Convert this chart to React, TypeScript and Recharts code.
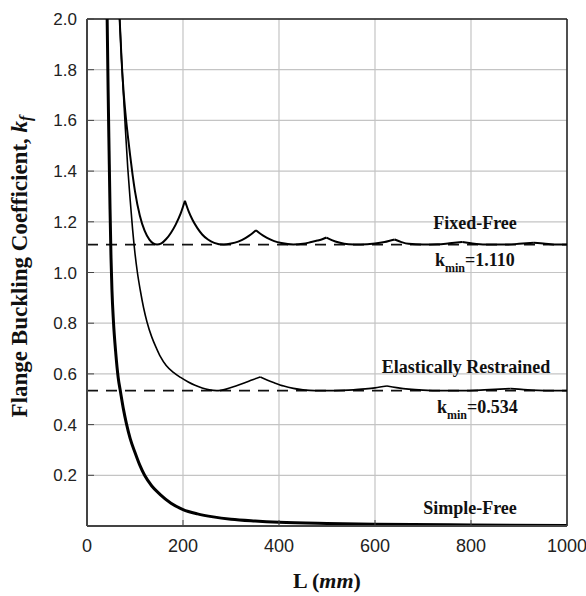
import { LineChart, Line, XAxis, YAxis, CartesianGrid, ReferenceLine, Label } from 'recharts';

// Fixed-Free edge
const ffL = [68, 72, 76, 80, 85, 90, 95, 100, 110, 120, 130, 138, 146, 155, 165, 175, 185, 195, 204,
    212, 220, 230, 240, 252, 265, 285, 300, 315, 330, 342, 352,
    362, 375, 390, 405, 430, 450, 465, 480, 490, 499,
    510, 525, 545, 570, 600, 620, 641,
    655, 670, 700, 730, 755, 782,
    800, 830, 870, 900, 931,
    955, 980, 1000];
const ffK = [2.0, 1.84, 1.72, 1.63, 1.54, 1.46, 1.385, 1.32, 1.225, 1.165, 1.13, 1.115, 1.11, 1.115, 1.132, 1.157, 1.19, 1.232, 1.283,
    1.24, 1.207, 1.175, 1.15, 1.13, 1.117, 1.11, 1.114, 1.122, 1.136, 1.151, 1.167,
    1.152, 1.137, 1.124, 1.116, 1.11, 1.113, 1.119, 1.126, 1.131, 1.138,
    1.128, 1.118, 1.111, 1.11, 1.114, 1.12, 1.13,
    1.12, 1.113, 1.11, 1.111, 1.115, 1.12,
    1.115, 1.11, 1.11, 1.113, 1.117,
    1.113, 1.11, 1.11];
const ffCusps = [204, 352, 499, 641, 782, 931];

// Elastically restrained edge
const erL = [68, 72, 76, 80, 85, 90, 95, 100, 105, 111, 118, 125, 135, 145, 153, 165, 180, 195, 210, 225, 240, 255, 270, 290, 310, 330, 345, 361,
    375, 390, 410, 430, 450, 475, 500, 530, 555, 580, 600, 625,
    645, 670, 700, 740, 780, 820, 850, 882,
    910, 940, 970, 1000];
const erK = [2.0, 1.84, 1.7, 1.565, 1.41, 1.285, 1.17, 1.075, 1.0, 0.93, 0.86, 0.805, 0.745, 0.7, 0.668, 0.633, 0.606, 0.586, 0.569, 0.555, 0.544, 0.537, 0.534, 0.54, 0.552, 0.566, 0.577, 0.588,
    0.576, 0.565, 0.552, 0.543, 0.537, 0.534, 0.534, 0.535, 0.537, 0.541, 0.545, 0.552,
    0.546, 0.54, 0.536, 0.534, 0.534, 0.536, 0.539, 0.542,
    0.538, 0.535, 0.534, 0.534];
const erCusps = [361, 625, 882];

// Simple-Free edge
const sfL = [42, 44, 46, 48, 50, 52, 55, 60, 65, 70, 76, 82, 90, 100, 110, 120, 135, 152, 175, 200, 230, 263, 300, 350, 400, 500, 600, 800, 1000];
const sfK = [2.0, 1.72, 1.48, 1.25, 1.06, 0.93, 0.81, 0.68, 0.585, 0.527, 0.46, 0.405, 0.345, 0.29, 0.24, 0.2, 0.158, 0.125, 0.09, 0.065, 0.048, 0.036, 0.027, 0.02, 0.015, 0.01, 0.007, 0.004, 0.002];

const xTicks = [0, 200, 400, 600, 800, 1000];
const yTicks = [0.2, 0.4, 0.6, 0.8, 1.0, 1.2, 1.4, 1.6, 1.8, 2.0];
const kminFixed = 1.11;
const kminElastic = 0.534;

type Pt = { L: number; k: number };

// break a curve at its cusps so each smooth piece can be drawn on its own
const pieces = (Ls: number[], ks: number[], cusps: number[]) => {
    const out: Pt[][] = [[]];
    Ls.forEach((L, i) => {
        out[out.length - 1].push({ L, k: ks[i] });
        if (cusps.includes(L)) out.push([{ L, k: ks[i] }]);
    });
    return out.filter((p) => p.length > 1);
};

const fixedFree = pieces(ffL, ffK, ffCusps);
const elastic = pieces(erL, erK, erCusps);
const simpleFree = sfL.map((L, i) => ({ L, k: sfK[i] }));

const serif = '"Liberation Serif", "Times New Roman", serif';
const sans = '"Liberation Sans", Arial, sans-serif';

const annot = (title: string, titleDx: number, titleDy: number, kmin?: string, kDx?: number, kDy?: number) =>
    (props: any) => {
        const vb = props.viewBox;
        const right = vb.x + vb.width;
        return (
            <g fontFamily={serif} fontWeight="bold" fill="#111">
                <text x={right - titleDx} y={vb.y - titleDy} textAnchor="middle" fontSize={18}>{title}</text>
                {kmin && (
                    <text x={right - (kDx || 0)} y={vb.y + (kDy || 0)} fontSize={18}>
                        <tspan>k</tspan>
                        <tspan dy={6} fontSize={12}>min</tspan>
                        <tspan dy={-6}>={kmin}</tspan>
                    </text>
                )}
            </g>
        );
    };

const YTitle = (props: any) => {
    const vb = props.viewBox;
    const cx = vb.x + 27;
    const cy = vb.y + vb.height / 2 - 6;
    return (
        <text x={cx} y={cy} transform={`rotate(-90, ${cx}, ${cy})`} textAnchor="middle"
            fontFamily={serif} fontWeight="bold" fontSize={23} fill="#111">
            Flange Buckling Coefficient, <tspan fontStyle="italic">k</tspan>
            <tspan fontStyle="italic" fontSize={16} dy={4}>f</tspan>
        </text>
    );
};

const XTitle = (props: any) => {
    const vb = props.viewBox;
    return (
        <text x={vb.x + vb.width / 2} y={588} textAnchor="middle"
            fontFamily={serif} fontWeight="bold" fontSize={22} fill="#111">
            L (<tspan fontStyle="italic">mm</tspan>)
        </text>
    );
};

const App = () => {
    return (
        <div style={{ position: 'absolute', left: 0, top: 0, background: '#fff' }}>
            <LineChart width={586} height={596} margin={{ top: 19, right: 19, bottom: 30, left: 0 }}>
                <CartesianGrid stroke="#c4c4c4" strokeWidth={1.2} />
                <XAxis
                    type="number"
                    dataKey="L"
                    domain={[0, 1000]}
                    ticks={xTicks}
                    height={40}
                    tickSize={-6}
                    tickMargin={19}
                    axisLine={{ stroke: '#444', strokeWidth: 2 }}
                    tickLine={{ stroke: '#444' }}
                    tick={{ fill: '#222', fontSize: 18, fontFamily: sans }}
                >
                    <Label content={XTitle} />
                </XAxis>
                <YAxis
                    type="number"
                    dataKey="k"
                    domain={[0, 2]}
                    ticks={yTicks}
                    allowDataOverflow
                    width={87}
                    tickSize={-7}
                    tickMargin={17}
                    tickFormatter={(v: number) => v.toFixed(1)}
                    axisLine={{ stroke: '#444', strokeWidth: 2 }}
                    tickLine={{ stroke: '#444' }}
                    tick={{ fill: '#222', fontSize: 17, fontFamily: sans }}
                >
                    <Label content={YTitle} />
                </YAxis>
                <ReferenceLine y={2} stroke="#222" strokeWidth={1.5} />
                <ReferenceLine x={1000} stroke="#222" strokeWidth={1.5} />
                <ReferenceLine y={kminFixed} stroke="#111" strokeWidth={1.6} strokeDasharray="11 8"
                    label={annot('Fixed-Free', 92, 16, kminFixed.toFixed(3), 132, 21)} />
                <ReferenceLine y={kminElastic} stroke="#111" strokeWidth={1.6} strokeDasharray="11 8"
                    label={annot('Elastically Restrained', 101, 18, kminElastic.toFixed(3), 130, 22)} />
                <ReferenceLine y={0} stroke="none" label={annot('Simple-Free', 97, 12)} />
                {fixedFree.map((seg, i) => (
                    <Line key={'ff' + i} data={seg} dataKey="k" type="monotone" stroke="#000" strokeWidth={2} dot={false} isAnimationActive={false} />
                ))}
                {elastic.map((seg, i) => (
                    <Line key={'er' + i} data={seg} dataKey="k" type="monotone" stroke="#000" strokeWidth={1.6} dot={false} isAnimationActive={false} />
                ))}
                <Line data={simpleFree} dataKey="k" type="monotone" stroke="#000" strokeWidth={3} dot={false} isAnimationActive={false} />
            </LineChart>
        </div>
    );
};

export default App;
